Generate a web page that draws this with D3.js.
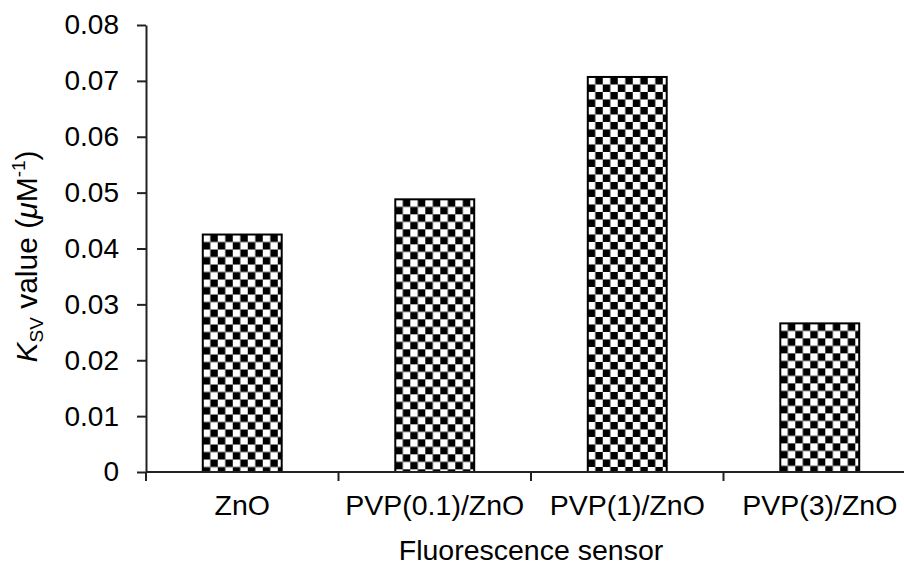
<!DOCTYPE html>
<html>
<head>
<meta charset="utf-8">
<script src="https://cdn.jsdelivr.net/npm/d3@7"></script>
<style>
  body { margin: 0; background: #fff; }
  svg { display: block; font-family: "Liberation Sans", Arial, sans-serif; }
</style>
</head>
<body>
<div id="chart"></div>
<script>
// data
var categories = ["ZnO", "PVP(0.1)/ZnO", "PVP(1)/ZnO", "PVP(3)/ZnO"];
var ksvValues = [0.0425, 0.0488, 0.0707, 0.0266];
var yTicks = [0, 0.01, 0.02, 0.03, 0.04, 0.05, 0.06, 0.07, 0.08];

const width = 904
const height = 565
const margin = {left: 146, top: 25, right: -12, bottom: 93}
const axisColor = "#222"

const svg = d3.select("#chart")
  .append("svg")
  .attr("width", width)
  .attr("height", height)

const x = d3.scaleBand()
  .domain(categories)
  .range([margin.left, width - margin.right])
  .paddingInner(0.59)
  .paddingOuter(0.295)

const y = d3.scaleLinear()
  .domain([0, 0.08])
  .range([height - margin.bottom, margin.top])

// checker pattern, one per bar so each starts at the bar corner
const defs = svg.append("defs")
const cell = 7.5
categories.forEach(function (c, i) {
  const p = defs.append("pattern")
    .attr("id", "checker" + i)
    .attr("patternUnits", "userSpaceOnUse")
    .attr("x", x(c))
    .attr("y", y(ksvValues[i]))
    .attr("width", cell * 2)
    .attr("height", cell * 2)
  p.append("rect").attr("width", cell * 2).attr("height", cell * 2).attr("fill", "#fff")
  p.append("rect").attr("x", cell).attr("y", 0).attr("width", cell).attr("height", cell).attr("fill", "#000")
  p.append("rect").attr("x", 0).attr("y", cell).attr("width", cell).attr("height", cell).attr("fill", "#000")
})

// bars
svg.selectAll("rect.bar")
  .data(categories)
  .join("rect")
  .attr("class", "bar")
  .attr("x", d => x(d))
  .attr("y", (d, i) => y(ksvValues[i]))
  .attr("width", x.bandwidth())
  .attr("height", (d, i) => y(0) - y(ksvValues[i]))
  .attr("fill", (d, i) => "url(#checker" + i + ")")
  .attr("stroke", "#000")
  .attr("stroke-width", 2)

// y axis
const yAxis = svg.append("g")
  .attr("transform", `translate(${margin.left},0)`)
  .call(d3.axisLeft(y)
    .tickValues(yTicks)
    .tickFormat(d => d === 0 ? "0" : d3.format(".2f")(d))
    .tickSize(9)
    .tickSizeOuter(0)
    .tickPadding(18))
yAxis.select(".domain").attr("stroke", axisColor).attr("stroke-width", 2)
yAxis.selectAll(".tick line").attr("stroke", axisColor).attr("stroke-width", 2)
yAxis.selectAll(".tick text")
  .attr("font-size", 28)
  .attr("font-family", "Liberation Sans, Arial, sans-serif")
  .attr("fill", "#000")

// x axis: ticks sit between the categories
const xBase = y(0)
const step = x.step()
const xStart = x.range()[0]
const boundaries = d3.range(categories.length + 1).map(i => xStart + i * step)

svg.append("line")
  .attr("x1", xStart)
  .attr("x2", x.range()[1])
  .attr("y1", xBase)
  .attr("y2", xBase)
  .attr("stroke", axisColor)
  .attr("stroke-width", 2)

svg.selectAll("line.xtick")
  .data(boundaries)
  .join("line")
  .attr("class", "xtick")
  .attr("x1", d => d)
  .attr("x2", d => d)
  .attr("y1", xBase)
  .attr("y2", xBase + 9)
  .attr("stroke", axisColor)
  .attr("stroke-width", 2)

svg.selectAll("text.xlabel")
  .data(categories)
  .join("text")
  .attr("class", "xlabel")
  .attr("x", d => x(d) + x.bandwidth() / 2)
  .attr("y", xBase + 43)
  .attr("text-anchor", "middle")
  .attr("font-size", 28.5)
  .attr("fill", "#000")
  .text(d => d)

// axis titles
svg.append("text")
  .attr("x", (xStart + x.range()[1]) / 2)
  .attr("y", 560)
  .attr("text-anchor", "middle")
  .attr("font-size", 28.5)
  .attr("fill", "#000")
  .text("Fluorescence sensor")

const yTitle = svg.append("text")
  .attr("transform", `translate(37,${(y(0) + y(0.08)) / 2 + 8}) rotate(-90)`)
  .attr("text-anchor", "middle")
  .attr("font-size", 30)
  .attr("fill", "#000")
yTitle.append("tspan").attr("font-style", "italic").text("K")
yTitle.append("tspan").attr("font-size", 19).attr("dy", 6).text("SV")
yTitle.append("tspan").attr("dy", -6).text(" value (")
yTitle.append("tspan").attr("font-style", "italic").text("\u03bc")
yTitle.append("tspan").text("M")
yTitle.append("tspan").attr("font-size", 19).attr("dy", -12).text("-1")
yTitle.append("tspan").attr("dy", 12).text(")")
</script>
</body>
</html>
